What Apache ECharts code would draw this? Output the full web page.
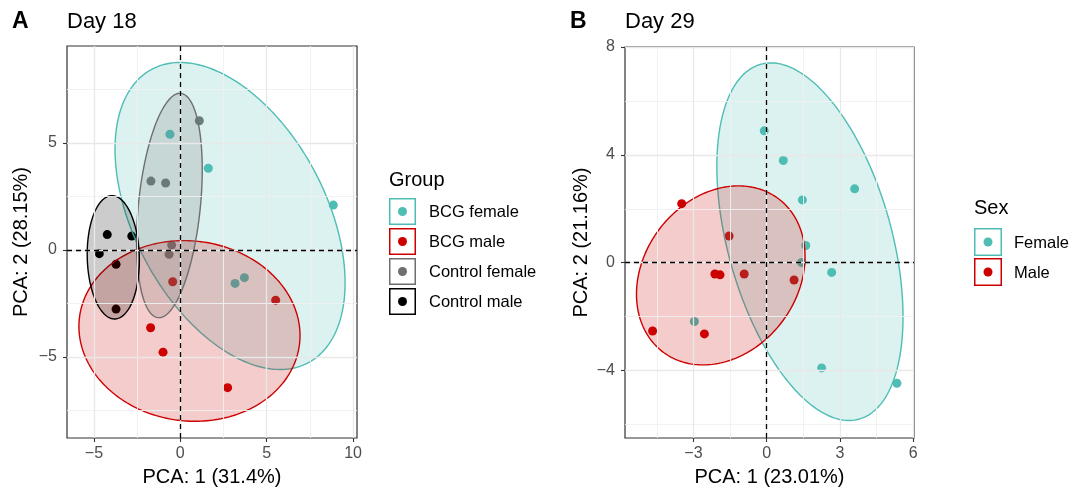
<!DOCTYPE html>
<html><head><meta charset="utf-8">
<script src="https://cdn.jsdelivr.net/npm/echarts@6/dist/echarts.min.js"></script>
<style>html,body{margin:0;padding:0;background:#fff}#c{width:1073px;height:490px}</style>
</head><body><div id="c"></div>
<script>
const FONT = '"Liberation Sans", Arial, Helvetica, sans-serif';

// ---------- Panel A: Day 18 ----------
const groupsA = ['BCG female', 'BCG male', 'Control female', 'Control male'];
const colorsA = ['#4EBDB4', '#CD0000', '#6F6F6F', '#000000'];
const bcgFemaleA = [[-0.6, 5.41], [1.62, 3.82], [8.86, 2.1], [3.17, -1.56], [3.71, -1.29]];
const bcgMaleA = [[-0.44, -1.48], [5.52, -2.34], [-1.72, -3.63], [-1.0, -4.77], [2.74, -6.43]];
const controlFemaleA = [[1.1, 6.04], [-1.7, 3.22], [-0.85, 3.13], [-0.5, 0.23], [-0.65, -0.2]];
const controlMaleA = [[-4.23, 0.72], [-2.81, 0.65], [-4.69, -0.17], [-3.72, -0.67], [-3.72, -2.76]];
// ellipse: centre, half-extent (x, y), correlation
const ellipseCenterA = [[2.88, 1.59], [0.53, -3.78], [-0.63, 2.08], [-3.88, -0.34]];
const ellipseRadiusA = [[6.66, 7.17], [6.40, 4.22], [1.90, 5.24], [1.51, 2.88]];
const ellipseRhoA = [-0.435, -0.05, 0.32, -0.05];
const xTicksA = [-5, 0, 5, 10];
const yTicksA = [-5, 0, 5];
const xMinorA = [-2.5, 2.5, 7.5];
const yMinorA = [-7.5, -2.5, 2.5, 7.5];
const xRangeA = [-6.56, 10.23];
const yRangeA = [-8.78, 9.53];

// ---------- Panel B: Day 29 ----------
const sexB = ['Female', 'Male'];
const colorsB = ['#4EBDB4', '#CD0000'];
const femaleB = [[-0.1, 4.89], [0.68, 3.79], [3.6, 2.74], [1.46, 2.33], [1.6, 0.64], [1.43, 0.01],
                 [2.66, -0.36], [-2.96, -2.18], [2.25, -3.9], [5.33, -4.47]];
const maleB = [[-3.48, 2.19], [-1.54, 0.99], [-2.12, -0.42], [-1.91, -0.45], [-0.92, -0.42],
               [1.12, -0.64], [-4.67, -2.53], [-2.55, -2.64]];
const ellipseCenterB = [[1.77, 0.78], [-1.88, -0.47]];
const ellipseRadiusB = [[3.81, 6.63], [3.45, 3.32]];
const ellipseRhoB = [-0.42, 0.21];
const xTicksB = [-3, 0, 3, 6];
const yTicksB = [-4, 0, 4, 8];
const xMinorB = [-4.5, -1.5, 1.5, 4.5];
const yMinorB = [-6, -2, 2, 6];
const xRangeB = [-5.8, 6.03];
const yRangeB = [-6.5, 8];

function rgba(hex, a) {
  const n = parseInt(hex.slice(1), 16);
  return 'rgba(' + ((n >> 16) & 255) + ',' + ((n >> 8) & 255) + ',' + (n & 255) + ',' + a + ')';
}
const fmt = v => (v < 0 ? '\u2212' + Math.abs(v) : String(v));

function xAxis(gi, range, ticks, name) {
  return {
    type: 'value', gridIndex: gi, min: range[0], max: range[1],
    name: name, nameLocation: 'middle', nameGap: 29,
    nameTextStyle: { fontFamily: FONT, fontSize: 20, color: '#000' },
    axisLine: { show: false, onZero: false }, splitLine: { show: false },
    axisTick: { show: true, customValues: ticks, length: 4, lineStyle: { color: '#333', width: 1.1 } },
    axisLabel: { customValues: ticks, formatter: fmt, color: '#4D4D4D', fontSize: 16, fontFamily: FONT, margin: 8 }
  };
}
function yAxis(gi, range, ticks, name, gap) {
  return {
    type: 'value', gridIndex: gi, min: range[0], max: range[1],
    name: name, nameLocation: 'middle', nameGap: gap,
    nameTextStyle: { fontFamily: FONT, fontSize: 20, color: '#000' },
    axisLine: { show: false, onZero: false }, splitLine: { show: false },
    axisTick: { show: true, customValues: ticks, length: 4, lineStyle: { color: '#333', width: 1.1 } },
    axisLabel: { customValues: ticks, formatter: fmt, color: '#4D4D4D', fontSize: 16, fontFamily: FONT, margin: 10 }
  };
}
function gridLines(i, xMaj, yMaj, xMin, yMin) {
  const minor = { color: '#F1F1F1', width: 0.9, type: 'solid' };
  const major = { color: '#E8E8E8', width: 1.3, type: 'solid' };
  return {
    type: 'scatter', xAxisIndex: i, yAxisIndex: i, data: [], z: 1, silent: true,
    markLine: {
      silent: true, symbol: 'none', animation: false, label: { show: false },
      data: [].concat(
        xMin.map(v => ({ xAxis: v, lineStyle: minor })),
        yMin.map(v => ({ yAxis: v, lineStyle: minor })),
        xMaj.map(v => ({ xAxis: v, lineStyle: major })),
        yMaj.map(v => ({ yAxis: v, lineStyle: major }))
      )
    }
  };
}
function zeroLines(i) {
  return {
    type: 'scatter', xAxisIndex: i, yAxisIndex: i, data: [], z: 6, silent: true,
    markLine: {
      silent: true, symbol: 'none', animation: false, label: { show: false },
      lineStyle: { color: '#000', width: 1.3, type: [5, 4] },
      data: [{ xAxis: 0 }, { yAxis: 0 }]
    }
  };
}
function points(i, data, color) {
  return { type: 'scatter', xAxisIndex: i, yAxisIndex: i, data: data, z: 2, symbolSize: 9,
    itemStyle: { color: color, opacity: 1 }, silent: true };
}
function ellipses(i, centers, radii, rhos, colors) {
  return {
    type: 'custom', xAxisIndex: i, yAxisIndex: i, z: 3, silent: true, clip: false,
    data: centers.map((c, k) => [c[0], c[1], k]),
    encode: { x: 0, y: 1 },
    renderItem: function (params, api) {
      const k = api.value(2);
      const cx = centers[k][0], cy = centers[k][1];
      const rx = radii[k][0], ry = radii[k][1], rho = rhos[k], s = Math.sqrt(1 - rho * rho);
      const pts = [];
      for (let j = 0; j < 240; j++) {
        const t = 2 * Math.PI * j / 240;
        pts.push(api.coord([cx + rx * Math.cos(t), cy + ry * (rho * Math.cos(t) + s * Math.sin(t))]));
      }
      return { type: 'polygon', shape: { points: pts },
        style: { fill: rgba(colors[k], 0.2), stroke: colors[k], lineWidth: 1.4 } };
    }
  };
}
function legend(title, names, colors, left, titleY, top0, step, size, textX) {
  const els = [{ type: 'text', x: left, y: titleY,
    style: { text: title, fontFamily: FONT, fontSize: 20, fill: '#000', verticalAlign: 'middle', align: 'left' } }];
  names.forEach((n, k) => {
    const y = top0 + k * step;
    els.push({ type: 'rect', shape: { x: left + 0.75, y: y + 0.75, width: size - 1.5, height: size - 1.5 },
      style: { fill: '#fff', stroke: colors[k], lineWidth: 1.5 } });
    els.push({ type: 'circle', shape: { cx: left + size / 2, cy: y + size / 2, r: 4.5 }, style: { fill: colors[k] } });
    els.push({ type: 'text', x: textX, y: y + size / 2 + 1,
      style: { text: n, fontFamily: FONT, fontSize: 16.5, fill: '#000', verticalAlign: 'middle', align: 'left' } });
  });
  return els;
}
function label(text, x, y, size, bold) {
  return { type: 'text', x: x, y: y, style: { text: text, fontFamily: FONT, fontSize: size,
    fontWeight: bold ? 'bold' : 'normal', fill: '#000', verticalAlign: 'middle', align: 'left' } };
}

const chart = echarts.init(document.getElementById('c'), null, { renderer: 'canvas' });
chart.setOption({
  animation: false,
  backgroundColor: '#fff',
  grid: [
    { left: 67, top: 46, width: 290, height: 392, show: true, borderColor: '#333', borderWidth: 1.2,
      backgroundColor: 'transparent', outerBoundsMode: 'none', containLabel: false },
    { left: 625, top: 47, width: 289, height: 391, show: true, borderColor: '#333', borderWidth: 1.2,
      backgroundColor: 'transparent', outerBoundsMode: 'none', containLabel: false }
  ],
  xAxis: [xAxis(0, xRangeA, xTicksA, 'PCA: 1 (31.4%)'), xAxis(1, xRangeB, xTicksB, 'PCA: 1 (23.01%)')],
  yAxis: [yAxis(0, yRangeA, yTicksA, 'PCA: 2 (28.15%)', 36), yAxis(1, yRangeB, yTicksB, 'PCA: 2 (21.16%)', 34)],
  series: [
    gridLines(0, xTicksA, yTicksA, xMinorA, yMinorA),
    points(0, bcgFemaleA, colorsA[0]), points(0, bcgMaleA, colorsA[1]),
    points(0, controlFemaleA, colorsA[2]), points(0, controlMaleA, colorsA[3]),
    ellipses(0, ellipseCenterA, ellipseRadiusA, ellipseRhoA, colorsA),
    zeroLines(0),
    gridLines(1, xTicksB, yTicksB, xMinorB, yMinorB),
    points(1, femaleB, colorsB[0]), points(1, maleB, colorsB[1]),
    ellipses(1, ellipseCenterB, ellipseRadiusB, ellipseRhoB, colorsB),
    zeroLines(1)
  ],
  graphic: [].concat(
    [label('A', 12, 22, 23, true), label('Day 18', 67, 22, 22, false),
     label('B', 570, 22, 23, true), label('Day 29', 625, 22, 22, false)],
    legend('Group', groupsA, colorsA, 389, 180, 198, 30, 27, 429),
    legend('Sex', sexB, colorsB, 974, 208, 228, 30, 28, 1014)
  )
});
</script></body></html>
